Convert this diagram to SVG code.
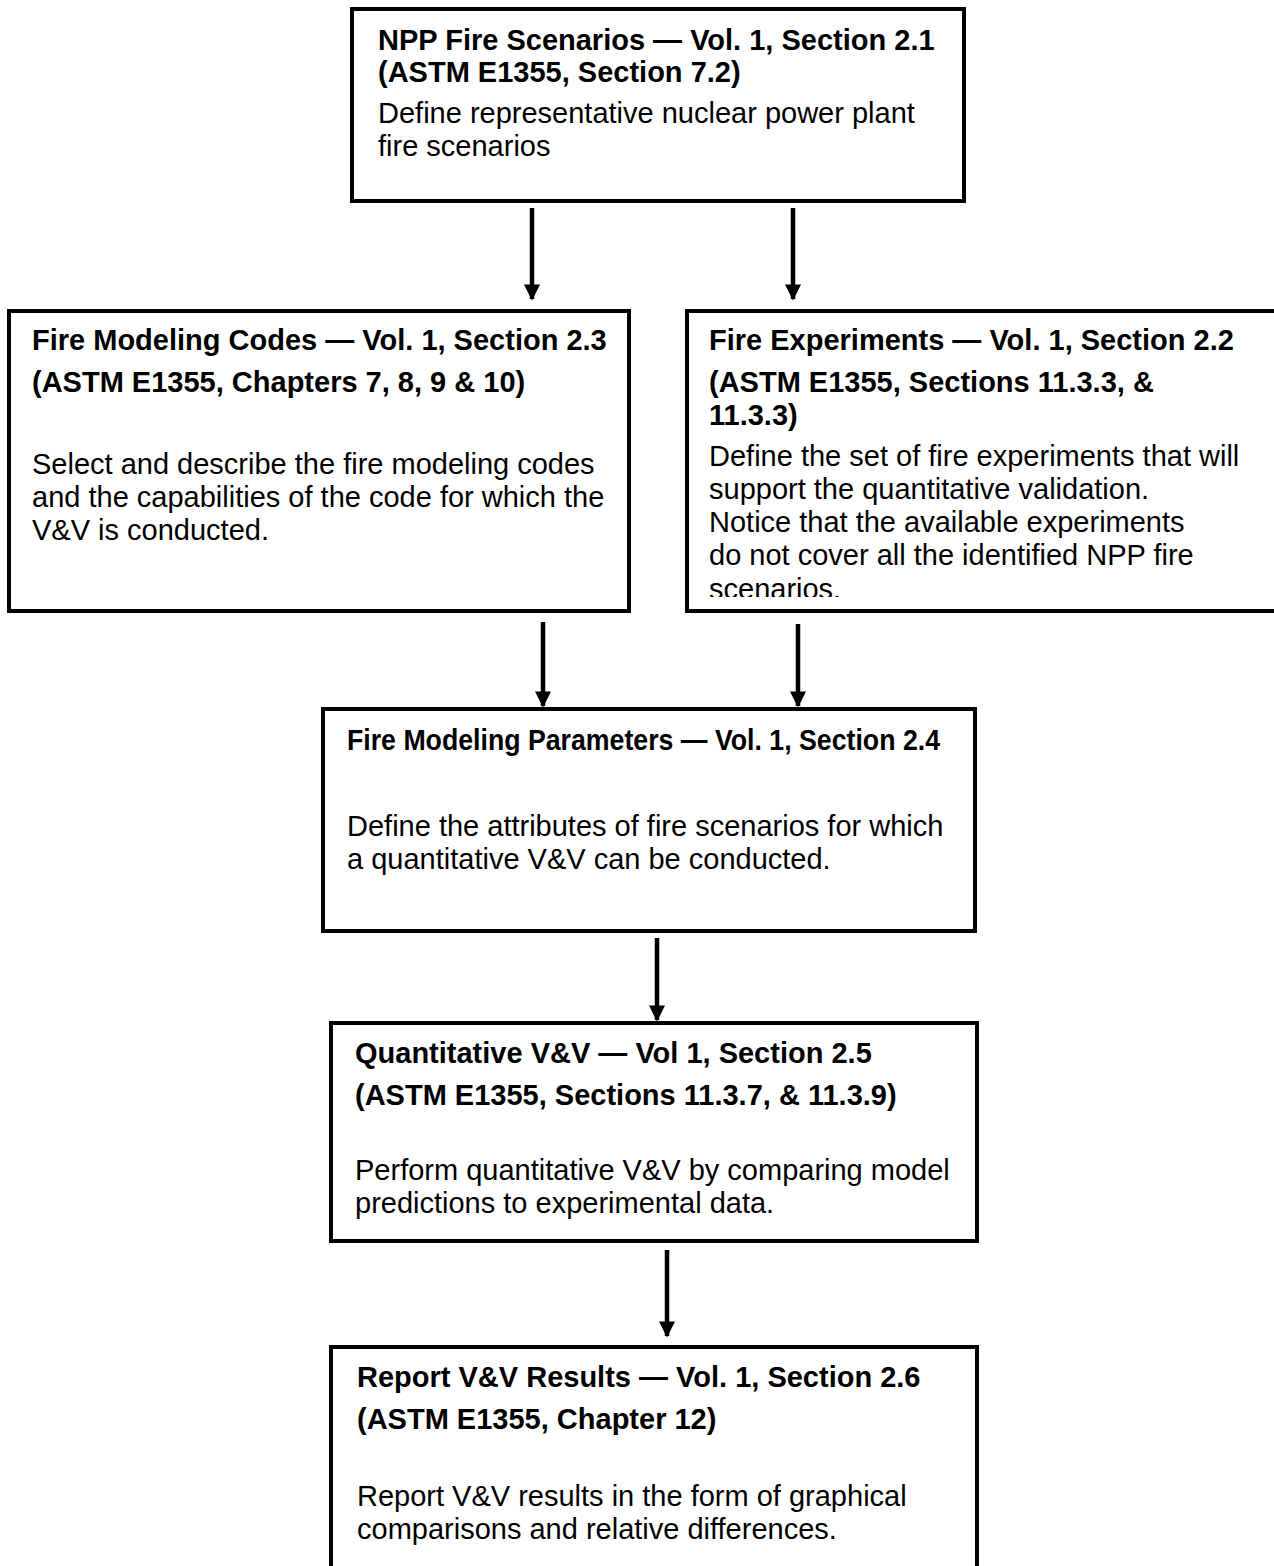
<svg xmlns="http://www.w3.org/2000/svg" width="1274" height="1566" viewBox="0 0 1274 1566">
<style>
.box{fill:#fff;stroke:#000;stroke-width:4}
.t{font-family:"Liberation Sans",Arial,sans-serif;font-weight:bold;font-size:29px;fill:#000}
.b{font-family:"Liberation Sans",Arial,sans-serif;font-size:29px;fill:#000}
.c{stroke:#000;stroke-width:4.5;fill:none}
</style>
<defs>
<marker id="ah" viewBox="0 0 10 10" refX="9" refY="5" markerWidth="3.6" markerHeight="3.6" orient="auto" markerUnits="strokeWidth"><path d="M0,0 L10,5 L0,10 z" fill="#000"/></marker>
<clipPath id="clip3"><rect x="686" y="300" width="600" height="297"/></clipPath>
</defs>
<rect width="1274" height="1566" fill="#fff"/>
<g id="connectors">
<line class="c" x1="532" y1="208" x2="532" y2="299" marker-end="url(#ah)"/>
<line class="c" x1="793" y1="208" x2="793" y2="299" marker-end="url(#ah)"/>
<line class="c" x1="543" y1="622" x2="543" y2="706" marker-end="url(#ah)"/>
<line class="c" x1="798" y1="624" x2="798" y2="706" marker-end="url(#ah)"/>
<line class="c" x1="657" y1="938" x2="657" y2="1020" marker-end="url(#ah)"/>
<line class="c" x1="667" y1="1250" x2="667" y2="1336" marker-end="url(#ah)"/>
</g>
<g id="n1">
<rect class="box" x="352" y="9" width="612" height="192"/>
<text class="t" x="378" y="50">NPP Fire Scenarios — Vol. 1, Section 2.1</text>
<text class="t" x="378" y="82">(ASTM E1355, Section 7.2)</text>
<text class="b" x="378" y="123">Define representative nuclear power plant</text>
<text class="b" x="378" y="156">fire scenarios</text>
</g>
<g id="n2">
<rect class="box" x="9" y="311" width="620" height="300"/>
<text class="t" x="32" y="350">Fire Modeling Codes — Vol. 1, Section 2.3</text>
<text class="t" x="32" y="392">(ASTM E1355, Chapters 7, 8, 9 &amp; 10)</text>
<text class="b" x="32" y="474">Select and describe the fire modeling codes</text>
<text class="b" x="32" y="507">and the capabilities of the code for which the</text>
<text class="b" x="32" y="540">V&amp;V is conducted.</text>
</g>
<g id="n3">
<rect class="box" x="687" y="311" width="598" height="300"/>
<text class="t" x="709" y="350">Fire Experiments — Vol. 1, Section 2.2</text>
<text class="t" x="709" y="392">(ASTM E1355, Sections 11.3.3, &amp;</text>
<text class="t" x="709" y="425">11.3.3)</text>
<text class="b" x="709" y="466">Define the set of fire experiments that will</text>
<text class="b" x="709" y="499">support the quantitative validation.</text>
<text class="b" x="709" y="532">Notice that the available experiments</text>
<text class="b" x="709" y="565">do not cover all the identified NPP fire</text>
<text class="b" x="709" y="599" clip-path="url(#clip3)">scenarios.</text>
</g>
<g id="n4">
<rect class="box" x="323" y="709" width="652" height="222"/>
<text class="t" x="347" y="750" textLength="593" lengthAdjust="spacingAndGlyphs">Fire Modeling Parameters — Vol. 1, Section 2.4</text>
<text class="b" x="347" y="836">Define the attributes of fire scenarios for which</text>
<text class="b" x="347" y="869">a quantitative V&amp;V can be conducted.</text>
</g>
<g id="n5">
<rect class="box" x="331" y="1023" width="646" height="218"/>
<text class="t" x="355" y="1063">Quantitative V&amp;V — Vol 1, Section 2.5</text>
<text class="t" x="355" y="1105">(ASTM E1355, Sections 11.3.7, &amp; 11.3.9)</text>
<text class="b" x="355" y="1180">Perform quantitative V&amp;V by comparing model</text>
<text class="b" x="355" y="1213">predictions to experimental data.</text>
</g>
<g id="n6">
<rect class="box" x="331" y="1347" width="646" height="240"/>
<text class="t" x="357" y="1387">Report V&amp;V Results — Vol. 1, Section 2.6</text>
<text class="t" x="357" y="1429">(ASTM E1355, Chapter 12)</text>
<text class="b" x="357" y="1506">Report V&amp;V results in the form of graphical</text>
<text class="b" x="357" y="1539">comparisons and relative differences.</text>
</g>
</svg>
